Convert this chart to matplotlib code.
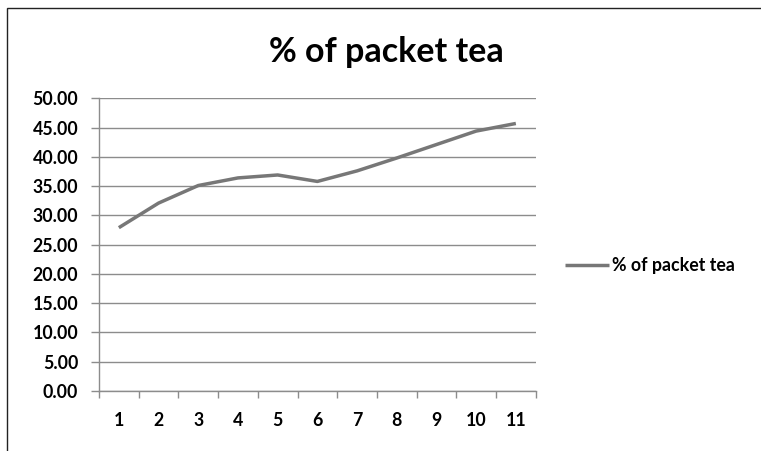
import matplotlib
matplotlib.use("Agg")
import matplotlib.pyplot as plt
from matplotlib.patches import Rectangle
from matplotlib.ticker import FixedLocator, NullFormatter

categories = ["1", "2", "3", "4", "5", "6", "7", "8", "9", "10", "11"]
values = [27.9, 32.1, 35.1, 36.4, 36.9, 35.8, 37.6, 39.8, 42.1, 44.4, 45.7]
series_name = "% of packet tea"
title = "% of packet tea"
yticks = [0, 5, 10, 15, 20, 25, 30, 35, 40, 45, 50]

W, H = 761, 451
fig = plt.figure(figsize=(W / 100, H / 100), dpi=100)
fig.patch.set_facecolor("white")

# chart frame (Excel chart area border, partly cut off)
fig.add_artist(Rectangle((7 / W, -0.1), 1.2, (H - 8.5) / H + 0.1,
                         transform=fig.transFigure, fill=False,
                         edgecolor="#222222", linewidth=1.0))

left, right, top, bottom = 99, 535.7, 98.3, 391
ax = fig.add_axes([left / W, (H - bottom) / H, (right - left) / W, (bottom - top) / H])

font = "Lato"
grid_col = "#8c8c8c"
x = list(range(1, len(categories) + 1))
ax.plot(x, values, color="#777777", linewidth=2.5, solid_capstyle="butt",
        solid_joinstyle="round", label=series_name, zorder=3)

ax.set_xlim(0.5, len(categories) + 0.5)
ax.set_ylim(0, 50)

ax.set_yticks(yticks)
ax.set_yticklabels([f"{v:.2f}" for v in yticks], fontfamily=font,
                   fontweight="bold", fontsize=12.8)
ax.yaxis.grid(True, color=grid_col, linewidth=1.0)
ax.set_axisbelow(True)

ax.xaxis.set_major_locator(FixedLocator([i + 0.5 for i in range(0, len(categories) + 1)]))
ax.xaxis.set_major_formatter(NullFormatter())
ax.xaxis.set_minor_locator(FixedLocator(x))
ax.set_xticklabels(categories, minor=True, fontfamily=font,
                   fontweight="bold", fontsize=12.8)
ax.tick_params(axis="x", which="major", direction="out", length=5, width=1,
               color=grid_col)
ax.tick_params(axis="x", which="minor", length=0, pad=15)
ax.tick_params(axis="y", direction="out", length=6, width=1, color=grid_col,
               pad=9)

for s in ["top", "right"]:
    ax.spines[s].set_visible(False)
for s in ["left", "bottom"]:
    ax.spines[s].set_color(grid_col)
    ax.spines[s].set_linewidth(1.0)

fig.text(386 / W, 1 - 61.7 / H, title, ha="center", va="baseline",
         fontfamily=font, fontweight="bold", fontsize=24.5, color="black")

leg = fig.legend(loc="center left", bbox_to_anchor=(549 / W, 1 - 266 / H),
                 frameon=False, handlelength=2.5, handletextpad=0.12,
                 prop={"family": font, "weight": "bold", "size": 12.8})

fig.savefig("out.png", dpi=100)
